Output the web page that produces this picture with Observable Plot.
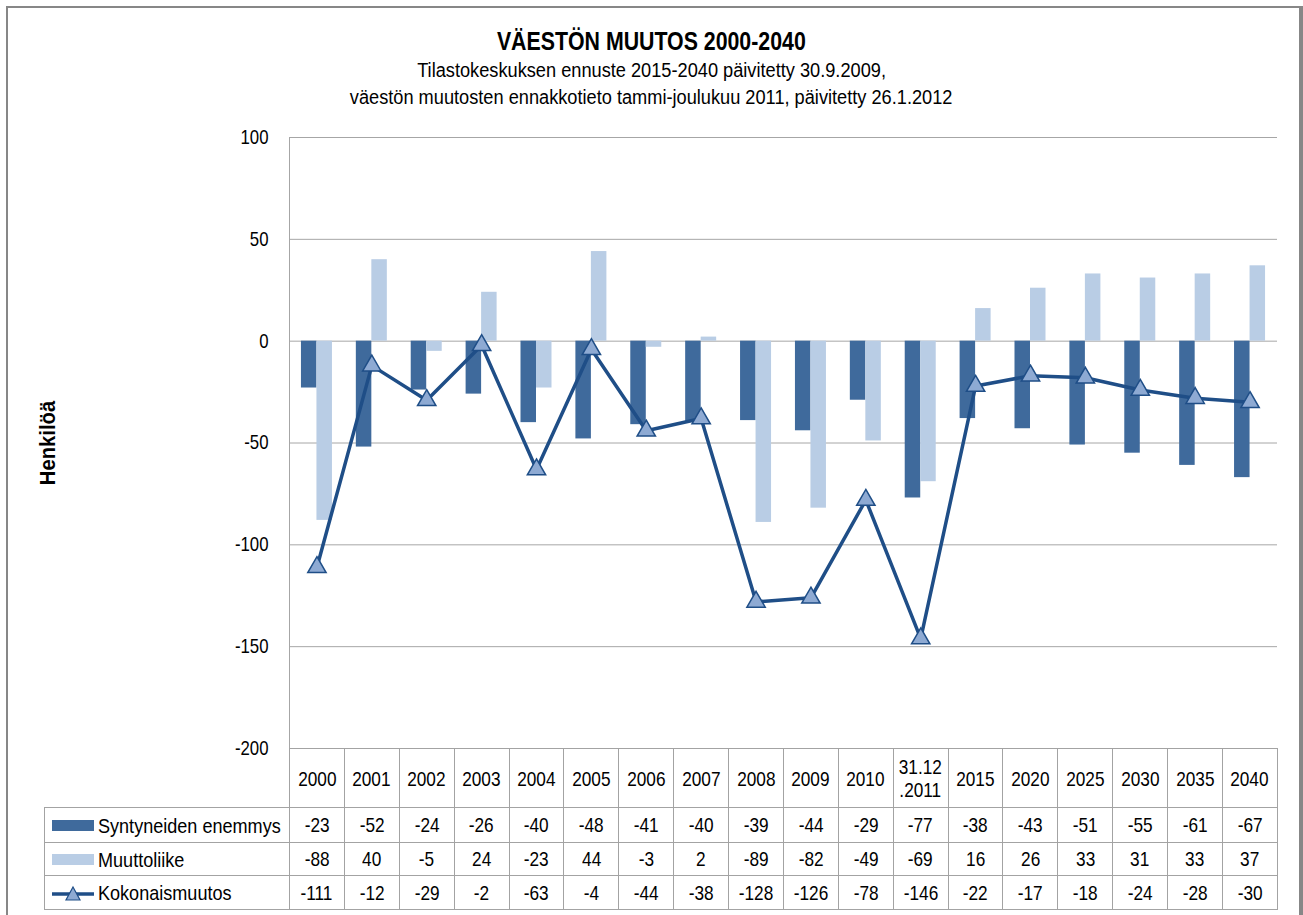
<!DOCTYPE html>
<html>
<head>
<meta charset="utf-8">
<script src="https://cdn.jsdelivr.net/npm/d3@7"></script>
<script src="https://cdn.jsdelivr.net/npm/@observablehq/plot@0.6"></script>
<style>
  body { margin: 0; background: #fff; }
  #wrap { position: relative; width: 1303px; height: 915px; overflow: hidden; background: #fff;
          font-family: "Liberation Sans", Arial, sans-serif; color: #000; }
  #frame { position: absolute; left: 6px; top: 6px; width: 1291px; height: 940px;
           border-top: 2px solid #878787; border-left: 2px solid #878787; border-right: 4px solid #878787; }
  .ttl { position: absolute; left: 0; width: 1303px; text-align: center; white-space: nowrap; }
  .ttl span { display: inline-block; transform-origin: 50% 50%; }
  #t1 { top: 25px; font-size: 26px; line-height: 32px; font-weight: bold; }
  #t1 span { transform: scaleX(0.82); }
  #t2 { top: 58px; font-size: 20px; line-height: 24px; }
  #t3 { top: 85px; font-size: 20px; line-height: 24px; }
  #t2 span, #t3 span { transform: scaleX(0.91); }
  #ylab { position: absolute; left: 48px; top: 443px; transform: translate(-50%, -50%) rotate(-90deg) scaleX(0.92);
          font-size: 22px; font-weight: bold; white-space: nowrap; }
  #chart { position: absolute; left: 0; top: 110px; }
  #tbl { position: absolute; left: 44px; top: 748px; border-collapse: collapse; table-layout: fixed;
         font-size: 21px; }
  #tbl td { border: 1px solid #a3a3a3; text-align: center; vertical-align: middle; padding: 0; white-space: nowrap; overflow: hidden; }
  #tbl td span.v { display: inline-block; transform: scaleX(0.82); transform-origin: 50% 50%; }
  #tbl td.blank { border: none; border-right: 1px solid #a3a3a3; }
  #tbl td.leg { text-align: left; }
  #tbl tr.hdr td { height: 58px; line-height: 23px; }
  .leg svg { vertical-align: middle; margin-left: 7px; margin-right: 4px; }
  .leg span.lt { display: inline-block; vertical-align: middle; transform: scaleX(0.86); transform-origin: 0 50%; }
</style>
</head>
<body>
<div id="wrap">
  <div id="frame"></div>
  <div class="ttl" id="t1"><span></span></div>
  <div class="ttl" id="t2"><span></span></div>
  <div class="ttl" id="t3"><span></span></div>
  <div id="ylab"></div>
  <div id="chart"></div>
  <table id="tbl"></table>
</div>
<script>
// ---- data ----
const titleText = "VÄESTÖN MUUTOS 2000-2040";
const subtitle1 = "Tilastokeskuksen ennuste 2015-2040 päivitetty 30.9.2009,";
const subtitle2 = "väestön muutosten ennakkotieto tammi-joulukuu 2011, päivitetty 26.1.2012";
const yLabel = "Henkilöä";
const categories = ["2000","2001","2002","2003","2004","2005","2006","2007","2008","2009","2010","31.12\n.2011","2015","2020","2025","2030","2035","2040"];
const seriesNames = ["Syntyneiden enemmys", "Muuttoliike", "Kokonaismuutos"];
const syntyneidenEnemmys = [-23,-52,-24,-26,-40,-48,-41,-40,-39,-44,-29,-77,-38,-43,-51,-55,-61,-67];
const muuttoliike = [-88,40,-5,24,-23,44,-3,2,-89,-82,-49,-69,16,26,33,31,33,37];
const kokonaismuutos = [-111,-12,-29,-2,-63,-4,-44,-38,-128,-126,-78,-146,-22,-17,-18,-24,-28,-30];
const yTicks = [-200,-150,-100,-50,0,50,100];

// ---- styles ----
const cDark = "#3F6A9C";
const cLight = "#B9CDE5";
const cLine = "#1F4E87";
const cMarker = "#8EAAD3";
const cGrid = "#a6a6a6";
const fontFam = '"Liberation Sans", Arial, sans-serif';

document.querySelector("#t1 span").textContent = titleText;
document.querySelector("#t2 span").textContent = subtitle1;
document.querySelector("#t3 span").textContent = subtitle2;
document.getElementById("ylab").textContent = yLabel;

const rowsS = categories.map((c, i) => ({cat: c, v: syntyneidenEnemmys[i]}));
const rowsM = categories.map((c, i) => ({cat: c, v: muuttoliike[i]}));
const rowsK = categories.map((c, i) => ({cat: c, v: kokonaismuutos[i]}));

const plotLeft = 289, plotRight = 1277;
const step = (plotRight - plotLeft) / categories.length;
const half = step / 2;
const barW = 15.5;

const chart = Plot.plot({
  width: 1303,
  height: 650,
  marginLeft: plotLeft,
  marginRight: 1303 - plotRight,
  marginTop: 27,
  marginBottom: 12,
  style: {fontFamily: fontFam, fontSize: "20px", color: "#000", background: "transparent", overflow: "visible"},
  x: {type: "band", domain: categories, padding: 0, round: false, axis: null},
  y: {domain: [-200, 100], axis: null},
  marks: [
    Plot.ruleY(yTicks, {stroke: cGrid, strokeWidth: 1}),
    Plot.axisY({ticks: yTicks, tickSize: 0, tickPadding: 21, tickFormat: d => String(d), label: null, fontSize: 20}),
    Plot.barY(rowsS, {x: "cat", y: "v", fill: cDark, insetLeft: half - barW, insetRight: half}),
    Plot.barY(rowsM, {x: "cat", y: "v", fill: cLight, insetLeft: half, insetRight: half - barW}),
    Plot.line(rowsK, {x: "cat", y: "v", stroke: cLine, strokeWidth: 3.5, strokeLinejoin: "round"}),
    Plot.dot(rowsK, {x: "cat", y: "v", symbol: "triangle", r: 6.8, fill: cMarker, stroke: cLine, strokeWidth: 1.5}),
    Plot.frame({anchor: "left", stroke: cGrid})
  ]
});
// condense tick label glyphs (narrow typeface look), anchored at their right end
const svgNS = "http://www.w3.org/2000/svg";
Array.from(chart.querySelectorAll("text")).forEach(t => {
  const g = document.createElementNS(svgNS, "g");
  let tr = t.getAttribute("transform") || "";
  t.removeAttribute("transform");
  const xa = t.getAttribute("x"), ya = t.getAttribute("y");
  let tx = 0, ty = 0;
  if (xa != null && xa !== "" && isFinite(+xa)) { tx = +xa; t.removeAttribute("x"); }
  if (ya != null && ya !== "" && isFinite(+ya)) { ty = +ya; t.removeAttribute("y"); }
  g.setAttribute("transform", `${tr} translate(${tx},${ty})`.trim());
  t.parentNode.insertBefore(g, t);
  g.appendChild(t);
  t.setAttribute("transform", "scale(0.84,1)");
});
document.getElementById("chart").appendChild(chart);

// ---- data table ----
const tbl = document.getElementById("tbl");
const colgroup = document.createElement("colgroup");
const c0 = document.createElement("col"); c0.style.width = (plotLeft - 44) + "px"; colgroup.appendChild(c0);
categories.forEach(() => { const c = document.createElement("col"); c.style.width = step + "px"; colgroup.appendChild(c); });
tbl.appendChild(colgroup);
tbl.style.width = (plotRight - 44) + "px";

const hdr = document.createElement("tr"); hdr.className = "hdr";
const blank = document.createElement("td"); blank.className = "blank"; hdr.appendChild(blank);
categories.forEach(c => {
  const td = document.createElement("td");
  const sp = document.createElement("span"); sp.className = "v";
  sp.innerHTML = c.split("\n").join("<br>");
  td.appendChild(sp);
  hdr.appendChild(td);
});
tbl.appendChild(hdr);

function legendIcon(kind) {
  const s = document.createElementNS(svgNS, "svg");
  s.setAttribute("width", 42); s.setAttribute("height", 16);
  if (kind === 2) {
    const l = document.createElementNS(svgNS, "line");
    l.setAttribute("x1", 0); l.setAttribute("x2", 42); l.setAttribute("y1", 9); l.setAttribute("y2", 9);
    l.setAttribute("stroke", cLine); l.setAttribute("stroke-width", 3.5);
    s.appendChild(l);
    const t = document.createElementNS(svgNS, "path");
    t.setAttribute("d", "M21,2 L28,15 L14,15 Z");
    t.setAttribute("fill", cMarker); t.setAttribute("stroke", cLine); t.setAttribute("stroke-width", 1.2);
    s.appendChild(t);
  } else {
    const r = document.createElementNS(svgNS, "rect");
    r.setAttribute("x", 0); r.setAttribute("y", 2); r.setAttribute("width", 42); r.setAttribute("height", 11);
    r.setAttribute("fill", kind === 0 ? cDark : cLight);
    s.appendChild(r);
  }
  return s;
}

const rowHeights = [34, 32, 33];
[syntyneidenEnemmys, muuttoliike, kokonaismuutos].forEach((vals, k) => {
  const tr = document.createElement("tr");
  const lg = document.createElement("td"); lg.className = "leg";
  lg.style.height = rowHeights[k] + "px";
  lg.appendChild(legendIcon(k));
  const sp = document.createElement("span"); sp.className = "lt"; sp.textContent = seriesNames[k]; lg.appendChild(sp);
  tr.appendChild(lg);
  vals.forEach(v => {
    const td = document.createElement("td");
    const s2 = document.createElement("span"); s2.className = "v"; s2.textContent = String(v);
    td.appendChild(s2);
    tr.appendChild(td);
  });
  tbl.appendChild(tr);
});
</script>
</body>
</html>
